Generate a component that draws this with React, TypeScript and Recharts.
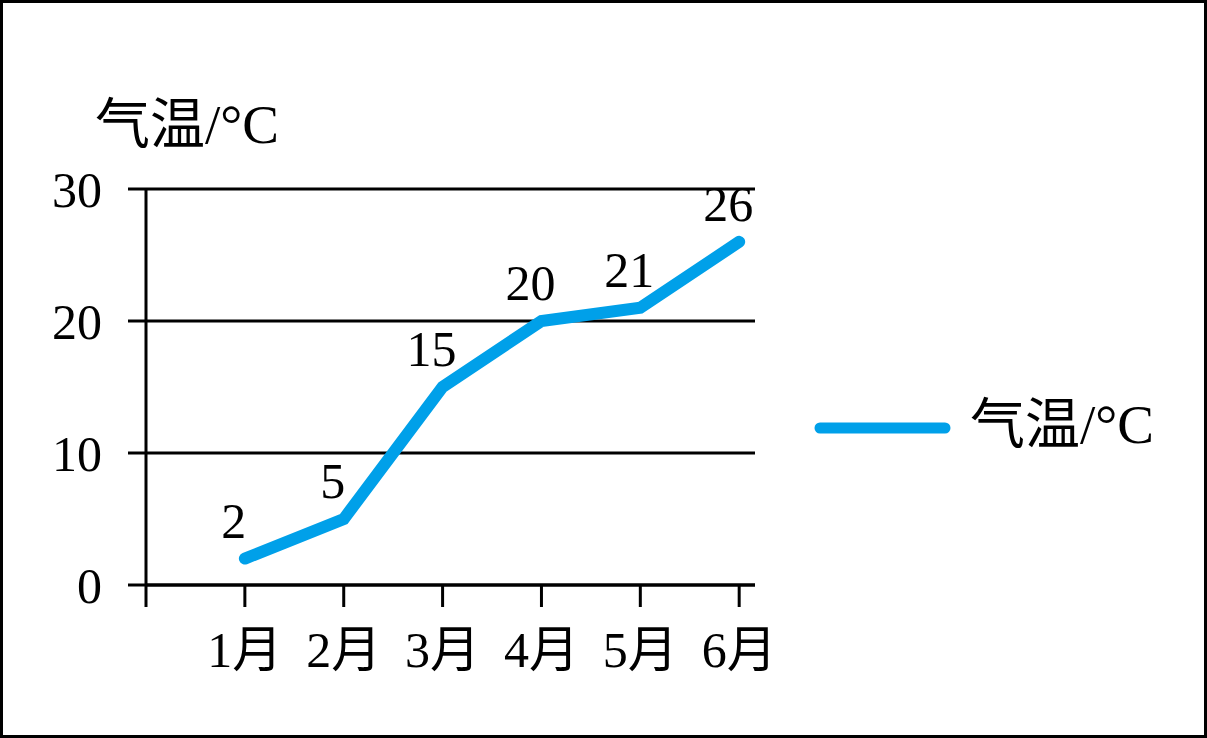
import { LineChart, Line, XAxis, YAxis, CartesianGrid, Legend, LabelList } from "recharts";

// 月份、气温（数据标签上的值）
const months = ["1月", "2月", "3月", "4月", "5月", "6月"];
const temps = [2, 5, 15, 20, 21, 26];
const yTicks = [0, 10, 20, 30];
const xTicks = [0, 1, 2, 3, 4, 5, 6];
const seriesName = "气温/°C";

const data = months.map((m, i) => ({ idx: i + 1, month: m, temp: temps[i] }));

const FONT = "'Liberation Serif', 'Times New Roman', 'Noto Sans CJK SC', serif";
const BLUE = "#00A0E9";

function AxisTitle() {
  return (
    <text x={95} y={143} fontSize={55} fontFamily={FONT} fill="#000">
      {seriesName}
    </text>
  );
}

function ValueLabel(p: any) {
  const vb = p.viewBox || {};
  const x = vb.x ?? p.x;
  const y = vb.y ?? p.y;
  return (
    <text x={x - 11} y={y - 21} textAnchor="middle" fontSize={50} fontFamily={FONT} fill="#000">
      {p.value}
    </text>
  );
}

function LegendBox(props: any) {
  const item = props.payload?.[0];
  return (
    <svg width={380} height={70} style={{ display: "block" }}>
      <line
        x1={8}
        y1={33}
        x2={133}
        y2={33}
        stroke={item?.color ?? BLUE}
        strokeWidth={11}
        strokeLinecap="round"
      />
      <text x={158} y={48} fontSize={55} fontFamily={FONT} fill="#000">
        {item?.value ?? seriesName}
      </text>
    </svg>
  );
}

export default function App() {
  return (
    <div style={{ position: "absolute", left: 0, top: 0, width: 1207, height: 738, background: "#fff" }}>
      <LineChart
        width={1207}
        height={738}
        data={data}
        margin={{ top: 189, right: 452, bottom: 0, left: 0 }}
      >
        <CartesianGrid vertical={false} stroke="#000" strokeWidth={3} />
        <XAxis
          dataKey="idx"
          type="number"
          domain={[0, 6.16]}
          ticks={xTicks}
          tickFormatter={(v: number) => (v === 0 ? "" : months[v - 1])}
          height={153}
          tickSize={22}
          tickMargin={24}
          axisLine={{ stroke: "#000", strokeWidth: 3 }}
          tickLine={{ stroke: "#000", strokeWidth: 3 }}
          tick={{ fill: "#000", fontSize: 50, fontFamily: FONT }}
          interval={0}
        />
        <YAxis
          domain={[0, 30]}
          ticks={yTicks}
          width={146}
          tickSize={18}
          tickMargin={26}
          axisLine={{ stroke: "#000", strokeWidth: 3 }}
          tickLine={{ stroke: "#000", strokeWidth: 3 }}
          tick={{ fill: "#000", fontSize: 50, fontFamily: FONT }}
          interval={0}
          label={<AxisTitle />}
        />
        <Legend
          layout="vertical"
          align="center"
          verticalAlign="middle"
          wrapperStyle={{ left: 812, top: 395, width: 380 }}
          content={<LegendBox />}
        />
        <Line
          type="linear"
          dataKey="temp"
          name={seriesName}
          stroke={BLUE}
          strokeWidth={12}
          strokeLinecap="round"
          dot={false}
          activeDot={false}
          isAnimationActive={false}
        >
          <LabelList dataKey="temp" content={<ValueLabel />} />
        </Line>
      </LineChart>
      <div
        style={{
          position: "absolute",
          left: 0,
          top: 0,
          width: 1207,
          height: 738,
          border: "3px solid #000",
          boxSizing: "border-box",
          pointerEvents: "none",
        }}
      />
    </div>
  );
}
